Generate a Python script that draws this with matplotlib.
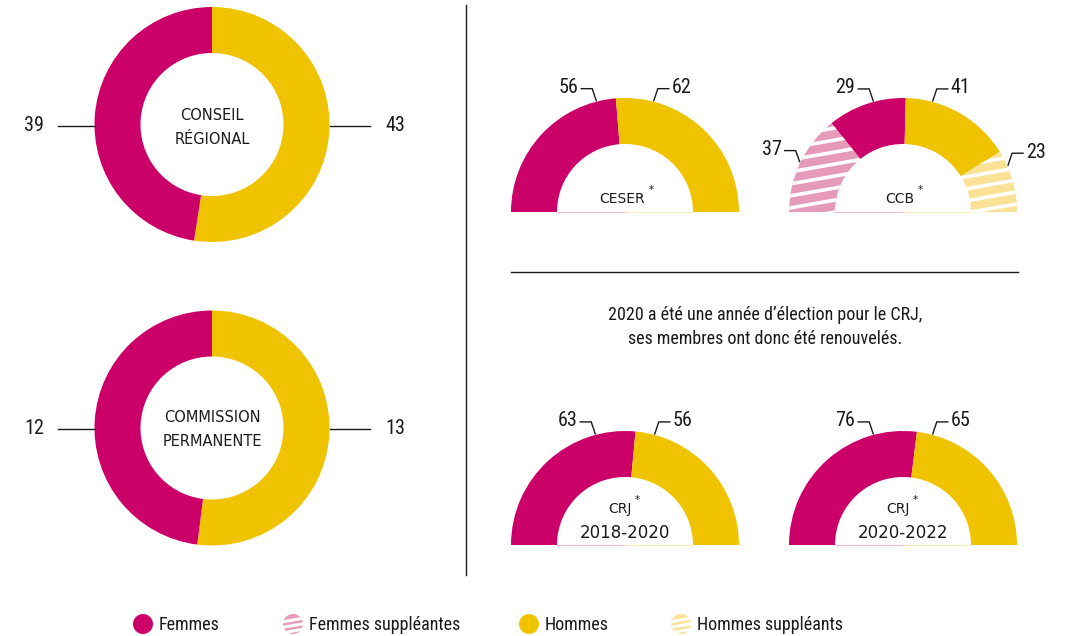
import numpy as np
import matplotlib
matplotlib.use("Agg")
import matplotlib.pyplot as plt
from matplotlib.patches import Wedge, Circle
from matplotlib import font_manager

# ---- data -------------------------------------------------------------
conseil_regional = {"Femmes": 39, "Hommes": 43}
commission_permanente = {"Femmes": 12, "Hommes": 13}
ceser = [56, 62]                 # femmes, hommes
ccb = [37, 29, 41, 23]           # femmes suppl., femmes, hommes, hommes suppl.
crj_2018_2020 = [63, 56]
crj_2020_2022 = [76, 65]
legend_labels = ["Femmes", "Femmes suppléantes", "Hommes", "Hommes suppléants"]
note_text = "2020 a été une année d’élection pour le CRJ,\nses membres ont donc été renouvelés."

# ---- style ------------------------------------------------------------
MAG = "#CC0069"
YEL = "#F0C300"
LPINK = "#E69AB9"
LYEL = "#FAE196"
INK = "#1a1a1a"

installed = {f.name for f in font_manager.fontManager.ttflist}
NUM_FONT = ["Liberation Sans Narrow", "Roboto Condensed", "DejaVu Sans"]
NUM_FONT = [f for f in NUM_FONT if f in installed] or ["DejaVu Sans"]
CAP_FONT = ["DejaVu Sans"]

W, H = 1068, 636
fig = plt.figure(figsize=(W / 100, H / 100), dpi=100)
ax = fig.add_axes([0, 0, 1, 1])
ax.set_xlim(0, W)
ax.set_ylim(0, H)
ax.set_aspect("equal")
ax.axis("off")


def Y(py):
    return H - py


def stripes(patch, cx, cy, R):
    """White slanted stripes clipped to a patch."""
    slope = np.tan(np.radians(10))
    xs = np.array([cx - R - 20, cx + R + 20])
    for k in range(-4, 16):
        y0 = cy + k * 12
        ln, = ax.plot(xs, y0 + slope * (xs - cx), color="white", lw=2.6,
                      solid_capstyle="butt", zorder=3)
        ln.set_clip_path(patch)


def starred(x, y, text, size):
    t = ax.text(x, y, text, ha="center", va="center", fontsize=size,
                family=CAP_FONT, color=INK)
    ax.annotate("*", xy=(1, 1), xycoords=t, xytext=(2.5, 1.5),
                textcoords="offset points", ha="left", va="center",
                fontsize=7.5, family=CAP_FONT, color=INK)


def full_donut(cx, py, vals, R=117.5, width=46):
    cy = Y(py)
    total = vals["Femmes"] + vals["Hommes"]
    a_h = vals["Hommes"] / total * 360
    ax.add_patch(Wedge((cx, cy), R, 90 - a_h, 90, width=width, fc=YEL, ec="none"))
    ax.add_patch(Wedge((cx, cy), R, 90, 450 - a_h, width=width, fc=MAG, ec="none"))
    # side labels
    ax.plot([58, cx - R], [cy - 1, cy - 1], color=INK, lw=1)
    ax.plot([cx + R, 370], [cy - 1, cy - 1], color=INK, lw=1)
    ax.text(34, cy - 1, str(vals["Femmes"]), ha="center", va="center",
            fontsize=14.5, family=NUM_FONT, color=INK)
    ax.text(395, cy - 1, str(vals["Hommes"]), ha="center", va="center",
            fontsize=14.5, family=NUM_FONT, color=INK)


def leader(cx, cy, R, ang, text, side, drop=12):
    a = np.radians(ang)
    sx, sy = cx + (R + 1) * np.cos(a), cy + (R + 1) * np.sin(a)
    ex, ey = sx + side * 4, sy + drop
    hx = ex + side * 11
    ax.plot([sx, ex, hx], [sy, ey, ey], color=INK, lw=1, solid_joinstyle="miter")
    ax.text(hx + side * 3, ey + 1, text, ha="right" if side < 0 else "left",
            va="center", fontsize=14.5, family=NUM_FONT, color=INK)


def half_donut(cx, py, vals, colors, hatched, angles, drops, title,
               R=114, width=46):
    cy = Y(py)
    total = sum(vals)
    start = 180.0
    for v, c, h, ang, d in zip(vals, colors, hatched, angles, drops):
        span = v / total * 180
        w = Wedge((cx, cy), R, start - span, start, width=width, fc=c, ec="none",
                  zorder=2)
        ax.add_patch(w)
        if h:
            stripes(w, cx, cy, R)
        side = -1 if ang > 90 else 1
        leader(cx, cy, R, ang, str(v), side, d)
        start -= span
    # faint baseline under the inner hole
    r_in = R - width
    ax.plot([cx - r_in, cx], [cy + 0.5, cy + 0.5], color="#F2B8D0", lw=0.8, zorder=1)
    ax.plot([cx, cx + r_in], [cy + 0.5, cy + 0.5], color="#FBEDB8", lw=0.8, zorder=1)
    lines = title.split("\n")
    if len(lines) == 1:
        starred(cx - 3, cy + 13, lines[0], 10)
    else:
        starred(cx - 5, cy + 36, lines[0], 10)
        ax.text(cx, cy + 12, lines[1], ha="center", va="center",
                fontsize=12, family=CAP_FONT, color=INK)


# ---- left column: full donuts -----------------------------------------
full_donut(212, 124.5, conseil_regional)
ax.text(212, Y(115), "CONSEIL", ha="center", va="center", fontsize=10.5,
        family=CAP_FONT, color=INK)
ax.text(212, Y(139), "RÉGIONAL", ha="center", va="center", fontsize=10.5,
        family=CAP_FONT, color=INK)

full_donut(212, 428, commission_permanente)
ax.text(212, Y(418), "COMMISSION", ha="center", va="center", fontsize=10.5,
        family=CAP_FONT, color=INK)
ax.text(212, Y(442), "PERMANENTE", ha="center", va="center", fontsize=10.5,
        family=CAP_FONT, color=INK)

# ---- separators ---------------------------------------------------------
ax.plot([466, 466], [Y(5), Y(575)], color=INK, lw=1)
ax.plot([511, 1018], [Y(272), Y(272)], color=INK, lw=1)

# ---- right column: half donuts -----------------------------------------
half_donut(625, 212, ceser, [MAG, YEL], [False, False], [104.5, 75.5],
           [12, 12], "CESER")
half_donut(903, 212, ccb, [LPINK, MAG, YEL, LYEL], [True, False, False, True],
           [154, 105, 75, 24], [11, 12, 12, 12], "CCB")
half_donut(625, 545, crj_2018_2020, [MAG, YEL], [False, False], [105, 75],
           [12, 12], "CRJ\n2018-2020")
half_donut(903, 545, crj_2020_2022, [MAG, YEL], [False, False], [105, 75],
           [12, 12], "CRJ\n2020-2022")

ax.text(765, Y(327), note_text, ha="center", va="center", fontsize=13,
        family=NUM_FONT, color=INK, linespacing=1.45)

# ---- legend -------------------------------------------------------------
leg_x = [143, 293, 529, 681]
leg_fc = [MAG, LPINK, YEL, LYEL]
leg_hatch = [False, True, False, True]
ly = Y(624)
for x, lab, fc, h in zip(leg_x, legend_labels, leg_fc, leg_hatch):
    c = Circle((x, ly), 10, fc=fc, ec="none", zorder=2)
    ax.add_patch(c)
    if h:
        xs = np.array([x - 12, x + 12])
        for k in (-7, -1.5, 4):
            ln, = ax.plot(xs, ly + k + np.tan(np.radians(10)) * (xs - x),
                          color="white", lw=2.2, zorder=3)
            ln.set_clip_path(c)
    ax.text(x + 16, ly - 1, lab, ha="left", va="center", fontsize=13,
            family=NUM_FONT, color=INK)

fig.savefig("out.png", dpi=100)
